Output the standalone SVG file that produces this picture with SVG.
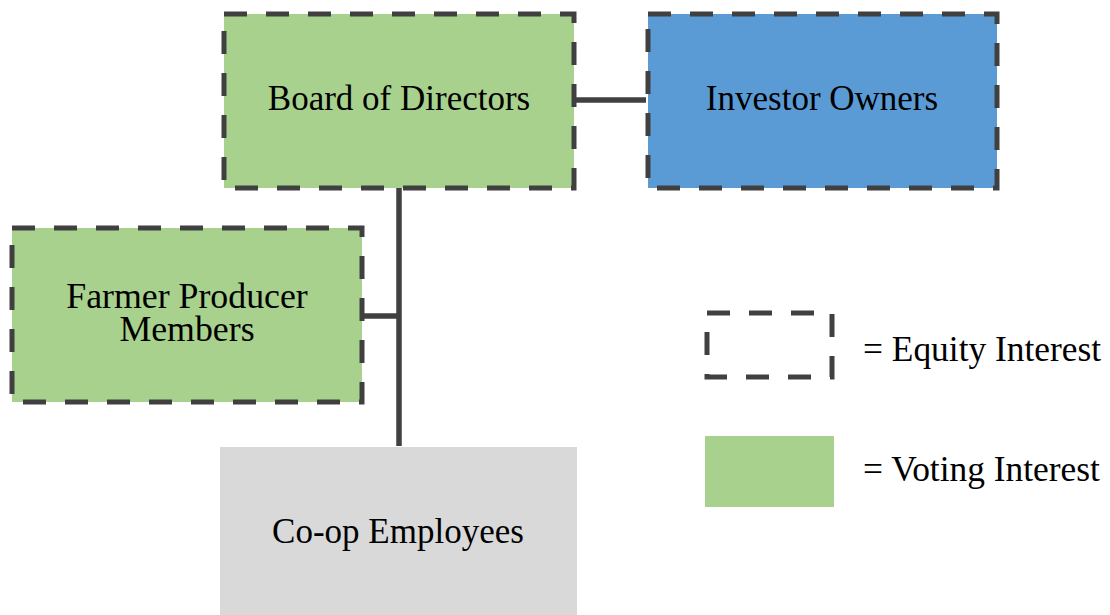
<svg xmlns="http://www.w3.org/2000/svg" width="1110" height="615" viewBox="0 0 1110 615">
  <style>
    .label { font-family: "Liberation Serif", "Times New Roman", serif; font-size: 35px; fill: #000; text-anchor: middle; }
    .legend { font-family: "Liberation Serif", "Times New Roman", serif; font-size: 35.4px; fill: #000; }
    .equity { stroke: #404040; stroke-width: 5; stroke-dasharray: 23 19; }
    .voting { fill: #a9d18e; }
    .link { stroke: #404040; stroke-width: 5.5; fill: none; }
  </style>
  <rect width="1110" height="615" fill="#ffffff"/>

  <!-- connectors -->
  <g id="connectors">
    <line class="link" x1="574" y1="100" x2="646" y2="100"/>
    <line class="link" x1="399" y1="188" x2="399" y2="446"/>
    <line class="link" x1="362" y1="316" x2="399" y2="316"/>
  </g>

  <g id="board">
    <rect class="voting equity" x="224" y="14" width="350" height="174"/>
    <text class="label" x="399" y="110">Board of Directors</text>
  </g>

  <g id="investors">
    <rect class="equity" fill="#5b9bd5" x="648" y="14" width="349" height="174"/>
    <text class="label" x="822" y="110">Investor Owners</text>
  </g>

  <g id="farmers">
    <rect class="voting equity" x="12" y="228" width="350" height="174"/>
    <text class="label" x="187" y="308" style="font-size:35.8px">Farmer Producer</text>
    <text class="label" x="187" y="341" style="font-size:35.8px">Members</text>
  </g>

  <g id="employees">
    <rect fill="#d9d9d9" x="220" y="447" width="357" height="170"/>
    <text class="label" x="398" y="543">Co-op Employees</text>
  </g>

  <!-- key -->
  <g id="legend-equity">
    <rect class="equity" fill="none" x="707" y="313" width="125" height="64"/>
    <text class="legend" x="863" y="361">= Equity Interest</text>
  </g>
  <g id="legend-voting">
    <rect class="voting" x="705" y="436" width="129" height="71"/>
    <text class="legend" x="863" y="481">= Voting Interest</text>
  </g>
</svg>
